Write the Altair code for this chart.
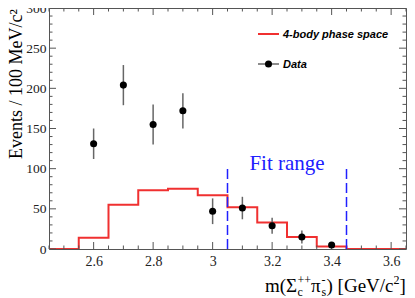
import altair as alt
import pandas as pd

# ---- data ----
bin_centers = [2.5, 2.6, 2.7, 2.8, 2.9, 3.0, 3.1, 3.2, 3.3, 3.4, 3.5, 3.6]
phase_space = [0, 14, 55, 73, 75, 67, 52, 33, 15, 3, 0, 0]

data_x = [2.6, 2.7, 2.8, 2.9, 3.0, 3.1, 3.2, 3.3, 3.4]
data_y = [131, 204, 155, 172, 47, 51, 29, 15, 5]
data_err = [19, 25, 25, 22, 16, 14, 10, 8, 3]

fit_range = [3.05, 3.45]
fit_top = 100

x_ticks_major = [2.6, 2.8, 3.0, 3.2, 3.4, 3.6]
x_ticks_minor = [2.45, 2.5, 2.55, 2.65, 2.7, 2.75, 2.85, 2.9, 2.95, 3.05, 3.1, 3.15,
                 3.25, 3.3, 3.35, 3.45, 3.5, 3.55, 3.65]
y_ticks_major = [0, 50, 100, 150, 200, 250, 300]
y_ticks_minor = [10, 20, 30, 40, 60, 70, 80, 90, 110, 120, 130, 140, 160, 170, 180, 190,
                 210, 220, 230, 240, 260, 270, 280, 290]

W, H = 357, 241
SERIF = "Liberation Serif"
SANS = "Liberation Sans"
FRAME = "#555555"

xs = alt.Scale(domain=[2.45, 3.65], nice=False, zero=False)
ys = alt.Scale(domain=[0, 300], nice=False, zero=True)
xaxis = alt.Axis(values=x_ticks_major, format="~g", title=None, tickSize=0, domain=False,
                 grid=False, labelFont=SERIF, labelFontSize=14, labelColor="#222",
                 labelPadding=5)
yaxis = alt.Axis(values=y_ticks_major, format="d", title=None, tickSize=0, domain=False,
                 grid=False, labelFont=SERIF, labelFontSize=13.5, labelColor="#222",
                 labelPadding=3)

def X(f):
    return alt.X(f, scale=xs, axis=xaxis, title=None)

def Y(f):
    return alt.Y(f, scale=ys, axis=yaxis, title=None)

# histogram as a step line through bin edges
edges = [c - 0.05 for c in bin_centers] + [bin_centers[-1] + 0.05]
vals = phase_space + [phase_space[-1]]
hist_df = pd.DataFrame({"x": edges, "y": vals})

pts_df = pd.DataFrame({"x": data_x, "y": data_y,
                       "lo": [v - e for v, e in zip(data_y, data_err)],
                       "hi": [v + e for v, e in zip(data_y, data_err)]})

hist = alt.Chart(hist_df).mark_line(interpolate="step-after", color="#f03030",
                                     strokeWidth=2, clip=True).encode(x=X("x:Q"), y=Y("y:Q"))

errbars = alt.Chart(pts_df).mark_rule(color="#666666", strokeWidth=1.5).encode(
    x=X("x:Q"), y=Y("lo:Q"), y2="hi:Q")
points = alt.Chart(pts_df).mark_circle(color="black", opacity=1, size=50).encode(
    x=X("x:Q"), y=Y("y:Q"))

fit_df = pd.DataFrame({"x": fit_range, "y0": [0, 0], "y1": [fit_top, fit_top]})
fit_lines = alt.Chart(fit_df).mark_rule(color="#2020ff", strokeWidth=1.5,
                                        strokeDash=[10, 4]).encode(
    x=X("x:Q"), y=Y("y0:Q"), y2="y1:Q")
fit_text_df = pd.DataFrame({"x": [sum(fit_range) / 2], "y": [98], "t": ["Fit range"]})
fit_text = alt.Chart(fit_text_df).mark_text(font=SERIF, fontSize=21, color="#2020ff",
                                            align="center", baseline="alphabetic").encode(
    x=X("x:Q"), y=Y("y:Q"), text="t:N")

# inward ticks on all four sides
def xticks(vals, length, bottom):
    df = pd.DataFrame({"t": vals})
    if bottom:
        yy, yy2 = alt.value(H), alt.value(H - length)
    else:
        yy, yy2 = alt.value(0), alt.value(length)
    return alt.Chart(df).mark_rule(color=FRAME, strokeWidth=1).encode(
        x=X("t:Q"), y=yy, y2=yy2)

def yticks(vals, length, left):
    df = pd.DataFrame({"t": vals})
    if left:
        xx, xx2 = alt.value(0), alt.value(length)
    else:
        xx, xx2 = alt.value(W), alt.value(W - length)
    return alt.Chart(df).mark_rule(color=FRAME, strokeWidth=1).encode(
        y=Y("t:Q"), x=xx, x2=xx2)

ticks = [xticks(x_ticks_major, 7, True), xticks(x_ticks_minor, 3.5, True),
         xticks(x_ticks_major, 7, False), xticks(x_ticks_minor, 3.5, False),
         yticks(y_ticks_major, 7, True), yticks(y_ticks_minor, 3.5, True),
         yticks(y_ticks_major, 7, False), yticks(y_ticks_minor, 3.5, False)]

# legend
leg_df = pd.DataFrame({"lbl": ["4-body phase space", "Data"]})
leg_red = alt.Chart(leg_df.iloc[[0]]).mark_rule(color="#f03030", strokeWidth=2).encode(
    x=alt.value(209), x2=alt.value(230), y=alt.value(26))
leg_gray = alt.Chart(leg_df.iloc[[1]]).mark_rule(color="#666666", strokeWidth=1.5).encode(
    x=alt.value(209), x2=alt.value(230), y=alt.value(56))
leg_dot = alt.Chart(leg_df.iloc[[1]]).mark_circle(color="black", opacity=1, size=50).encode(
    x=alt.value(219.5), y=alt.value(56))
leg_txt1 = alt.Chart(leg_df.iloc[[0]]).mark_text(font=SANS, fontSize=11, fontWeight="bold",
                                                 fontStyle="italic", align="left",
                                                 baseline="alphabetic", color="black").encode(
    x=alt.value(234), y=alt.value(30), text="lbl:N")
leg_txt2 = alt.Chart(leg_df.iloc[[1]]).mark_text(font=SANS, fontSize=11, fontWeight="bold",
                                                 fontStyle="italic", align="left",
                                                 baseline="alphabetic", color="black").encode(
    x=alt.value(234), y=alt.value(60), text="lbl:N")

# axis titles
def txt(s, x, y, size, angle=0, align="left"):
    df = pd.DataFrame({"t": [s]})
    kw = dict(font=SERIF, fontSize=size, align=align, baseline="alphabetic", color="black")
    if angle:
        kw["angle"] = angle
    return alt.Chart(df).mark_text(**kw).encode(x=alt.value(x), y=alt.value(y), text="t:N")

BY = 284
F, S = 19, 12
x0 = 216
parts = [
    txt("m(Σ", x0, BY, F),
    txt("c", x0 + 32.4, BY + 4, S),
    txt("++", x0 + 32.4, BY - 8, S),
    txt("π", x0 + 46, BY, F),
    txt("s", x0 + 56.5, BY + 4, S),
    txt("-", x0 + 56.5, BY - 8, S),
    txt(") [GeV/c", x0 + 61.5, BY, F),
    txt("2", x0 + 128.5, BY - 8, S),
    txt("]", x0 + 134.5, BY, F),
]
ytitle = txt("Events / 100 MeV/c²", -27.5, 1, 18, angle=270, align="right")

chart = alt.layer(hist, *ticks, fit_lines, fit_text, errbars, points,
                  leg_red, leg_gray, leg_dot, leg_txt1, leg_txt2, *parts, ytitle).properties(
    width=W, height=H,
    autosize=alt.AutoSizeParams(type="none"),
    padding={"left": 41, "top": 0, "right": 1, "bottom": 47},
    background="white",
).configure_view(stroke=FRAME, strokeWidth=1)

chart.save("out.html", embed_options={"renderer": "svg", "actions": False})
